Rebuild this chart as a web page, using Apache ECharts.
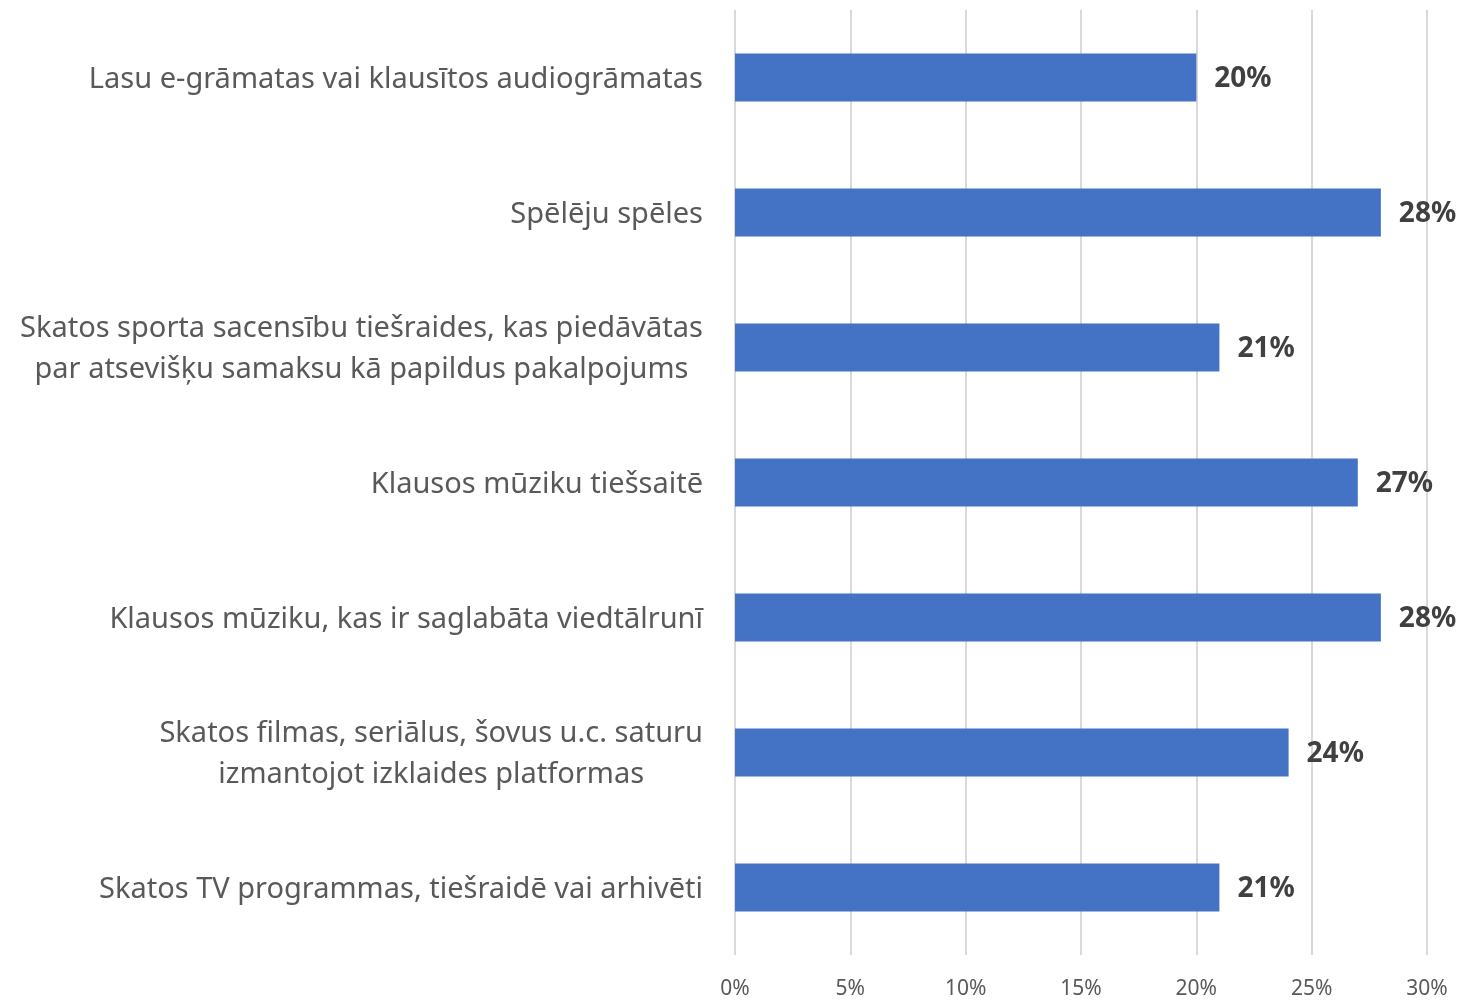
<!DOCTYPE html>
<html lang="lv">
  <head>
    <meta charset="UTF-8" />
    <title>Aktivitātes</title>
    <script src="https://cdn.jsdelivr.net/npm/echarts@6/dist/echarts.min.js"></script>
  </head>
  <body style="margin: 0; background: #fff">
    <div id="container" style="width: 1465px; height: 1001px"></div>
    <script>
      // kategorijas no augšas uz leju
      const categories = [
        "Lasu e-grāmatas vai klausītos audiogrāmatas",
        "Spēlēju spēles",
        "Skatos sporta sacensību tiešraides, kas piedāvātas\npar atsevišķu samaksu kā papildus pakalpojums",
        "Klausos mūziku tiešsaitē",
        "Klausos mūziku, kas ir saglabāta viedtālrunī",
        "Skatos filmas, seriālus, šovus u.c. saturu\nizmantojot izklaides platformas",
        "Skatos TV programmas, tiešraidē vai arhivēti"
      ];
      const values = [20, 28, 21, 27, 28, 24, 21];
      const axisMax = 30;
      const axisStep = 5;

      const font = "Noto Sans";
      const chart = echarts.init(document.getElementById("container"));
      chart.setOption({
        animation: false,
        grid: { left: 735, right: 38, top: 10, bottom: 46 },
        xAxis: {
          type: "value",
          min: 0,
          max: axisMax,
          interval: axisStep,
          axisLine: { show: false },
          axisTick: { show: false },
          axisLabel: {
            formatter: "{value}%",
            color: "#595959",
            fontFamily: font,
            fontSize: 21,
            margin: 24
          },
          splitLine: { lineStyle: { color: "#d9d9d9", width: 2 } }
        },
        yAxis: {
          type: "category",
          data: categories,
          inverse: true,
          axisLine: { show: false },
          axisTick: { show: false },
          axisLabel: {
            // rindas centrētas bloka iekšpusē
            formatter: v => v.split("\n").map(s => "{c|" + s + "}").join("\n"),
            margin: 32,
            align: "right",
            padding: [4, 0, 0, 0],
            rich: {
              c: {
                align: "center",
                color: "#595959",
                fontFamily: font,
                fontSize: 29,
                lineHeight: 41
              }
            }
          }
        },
        series: [
          {
            type: "bar",
            data: values,
            barWidth: 48,
            itemStyle: { color: "#4472c4" },
            label: {
              show: true,
              position: "right",
              distance: 18,
              offset: [0, 2],
              formatter: "{c}%",
              color: "#404040",
              fontFamily: font,
              fontWeight: "bold",
              fontSize: 28
            }
          }
        ]
      });
    </script>
  </body>
</html>
